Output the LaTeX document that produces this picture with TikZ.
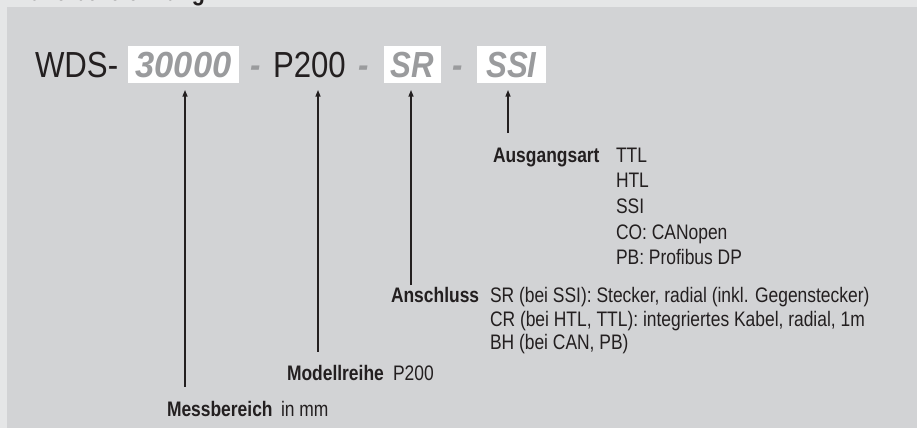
\documentclass[tikz,border=0pt]{standalone}
\usepackage{fontspec}
\setmainfont{Liberation Sans}
\newfontfamily\cnd{Liberation Sans}[FakeStretch=0.83]
\newfontfamily\cndbig{Liberation Sans}[FakeStretch=0.86]
\newfontfamily\cnddig{Liberation Sans}[FakeStretch=0.95]
\usetikzlibrary{arrows.meta}
\definecolor{outerbg}{HTML}{E5E6E7}
\definecolor{panel}{HTML}{D2D3D5}
\definecolor{codegray}{HTML}{9A9B9D}
\definecolor{ink}{HTML}{231F20}
\tikzset{
  bigtxt/.style={font=\cndbig\fontsize{27.2pt}{30pt}\selectfont, anchor=base west, text=ink},
  codebox/.style={font=\cndbig\bfseries\itshape\fontsize{27.2pt}{30pt}\selectfont, text=codegray, fill=white,
    minimum height=27.75pt, text height=19.5pt, text depth=0pt, anchor=center},
  sepdash/.style={font=\cndbig\bfseries\itshape\fontsize{27.2pt}{30pt}\selectfont, text=codegray, anchor=base},
  lbl/.style={font=\cnd\bfseries\fontsize{15.75pt}{18pt}\selectfont, anchor=base west, text=ink},
  val/.style={font=\cnd\fontsize{15.75pt}{18pt}\selectfont, anchor=base west, text=ink},
  arr/.style={draw=ink, line width=1pt, -{Triangle[length=5pt,width=3.8pt]}},
}
\begin{document}
\begin{tikzpicture}[x=0.75pt,y=-0.75pt, every node/.style={inner sep=0pt, outer sep=0pt}]
\useasboundingbox (0,0) rectangle (917,428);
\fill[outerbg] (0,0) rectangle (917,428);
\fill[panel] (7,7) rectangle (917,428);
\node[lbl, font=\cnd\bfseries\fontsize{19.5pt}{22pt}\selectfont] (title) at (6,0.5) {Artikelbezeichnung};

% code line
\node[bigtxt] (wds) at (35,78) {WDS-};
\node[codebox, minimum width=83.25pt, font=\cnddig\bfseries\itshape\fontsize{27.2pt}{30pt}\selectfont] (b30) at (183.5,64.5) {30000};
\node[sepdash] (d1) at (255.5,78) {-};
\node[bigtxt] (p200) at (273,78) {P200};
\node[sepdash] (d2) at (364,78) {-};
\node[codebox, minimum width=42.75pt] (bsr) at (412.5,64.5) {SR};
\node[sepdash] (d3) at (457.5,78) {-};
\node[codebox, minimum width=51.75pt] (bssi) at (511.5,64.5) {SSI};

% labels
\node[lbl] (ausg) at (493,162) {Ausgangsart};
\node[val] (o1) at (616,162) {TTL};
\node[val] (o2) at (616,187.7) {HTL};
\node[val] (o3) at (616,213.4) {SSI};
\node[val] (o4) at (616,239.1) {CO: CANopen};
\node[val] (o5) at (616,264.8) {PB: Profibus DP};

\node[lbl] (ansch) at (391,302) {Anschluss};
\node[val] (a1) at (490,302) {SR (bei SSI): Stecker, radial (inkl. Gegenstecker)};
\node[val] (a2) at (490,326) {CR (bei HTL, TTL): integriertes Kabel, radial, 1m};
\node[val] (a3) at (490,349.5) {BH (bei CAN, PB)};

\node[lbl] (modell) at (287,380.5) {Modellreihe};
\node[val] (m1) at (393,380.5) {P200};

\node[lbl] (mess) at (167,416) {Messbereich};
\node[val] (mm) at (281,416) {in mm};

% arrows
\coordinate (tSSI) at (508,133);
\coordinate (tSR) at (411,285);
\coordinate (tP) at (318,351.5);
\coordinate (tM) at (185,386.5);
\draw[arr, shorten >=5.25pt] (tSSI) -- (tSSI |- bssi.south);
\draw[arr, shorten >=5.25pt] (tSR) -- (tSR |- bsr.south);
\draw[arr, shorten >=9pt] (tP) -- (tP |- p200.base);
\draw[arr, shorten >=5.25pt] (tM) -- (tM |- b30.south);
\end{tikzpicture}
\end{document}
